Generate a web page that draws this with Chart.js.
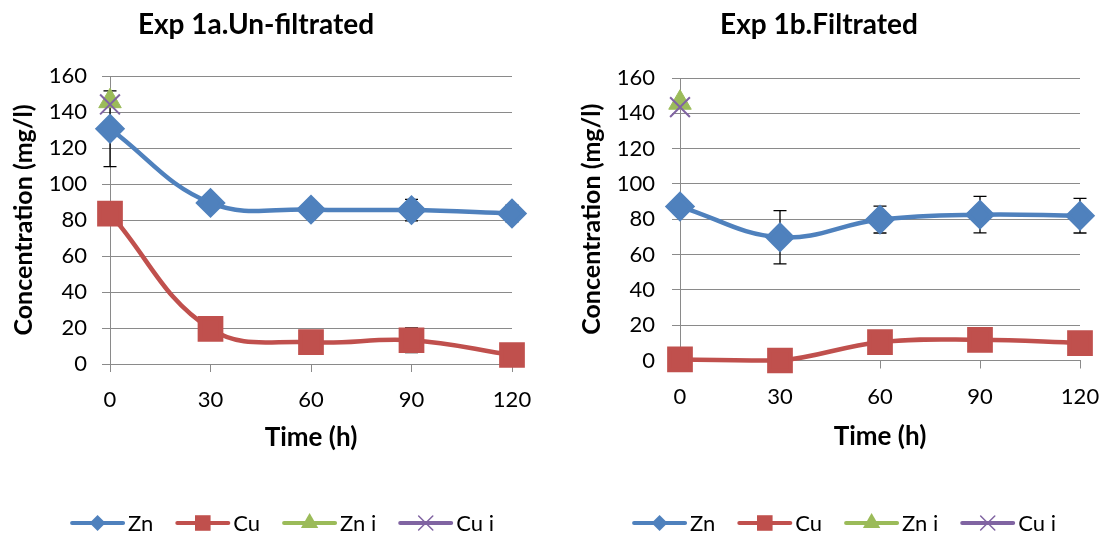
<!DOCTYPE html>
<html>
<head>
<meta charset="utf-8">
<script src="https://cdn.jsdelivr.net/npm/chart.js@4/dist/chart.umd.min.js"></script>
<style>
  html, body { margin: 0; padding: 0; background: #fff; }
  #wrap { position: relative; width: 1117px; height: 534px; overflow: hidden; }
  canvas { position: absolute; top: 0; }
</style>
</head>
<body>
<div id="wrap">
  <canvas id="chartA" width="558" height="534" style="left:0"></canvas>
  <canvas id="chartB" width="559" height="534" style="left:558px"></canvas>
</div>
<script>
const tiempos = [0, 30, 60, 90, 120];
const yTicks = [0, 20, 40, 60, 80, 100, 120, 140, 160];
const series = ["Zn", "Cu", "Zn i", "Cu i"];

// Exp 1a. Un-filtrated
const znA = [130.7, 89.5, 85.8, 85.5, 83.6];
const znErrA = [21, 4.2, 3.7, 6, 4.6];
const cuA = [83.6, 19.5, 12.1, 13.2, 5.0];
const cuErrA = [2, 2, 1.5, 6.9, 1.5];
const znIA = [146];
const cuIA = [144.2];

// Exp 1b. Filtrated
const znB = [87.2, 69.8, 79.8, 82.6, 82.0];
const znErrB = [2, 15.1, 7.6, 10.3, 9.8];
const cuB = [0.6, 0, 10.4, 11.7, 9.9];
const cuErrB = [1, 1, 1.5, 1.5, 1.5];
const znIB = [146];
const cuIB = [143.5];

const colores = ["#4F81BD", "#C0504D", "#9BBB59", "#8064A2"];
const fuente = "Lato";

function puntos(vals) {
  return vals.map((v, i) => ({ x: tiempos[i], y: v }));
}

// barras de error
const errorBars = {
  id: "errorBars",
  beforeDatasetsDraw(chart) {
    const ctx = chart.ctx;
    const xs = chart.scales.x, ys = chart.scales.y;
    ctx.save();
    ctx.strokeStyle = "#000";
    ctx.lineWidth = 1.3;
    chart.data.datasets.forEach(ds => {
      if (!ds.errores) return;
      ds.data.forEach((p, i) => {
        const e = ds.errores[i];
        if (!e) return;
        const x = xs.getPixelForValue(p.x);
        const y1 = ys.getPixelForValue(p.y + e);
        const y2 = ys.getPixelForValue(p.y - e);
        ctx.beginPath();
        ctx.moveTo(x, y1); ctx.lineTo(x, y2);
        ctx.moveTo(x - 6.5, y1); ctx.lineTo(x + 6.5, y1);
        ctx.moveTo(x - 6.5, y2); ctx.lineTo(x + 6.5, y2);
        ctx.stroke();
      });
    });
    ctx.restore();
  }
};

function marcador(ctx, tipo, x, y, r, color) {
  ctx.save();
  ctx.fillStyle = color;
  ctx.strokeStyle = color;
  ctx.beginPath();
  if (tipo === "rectRot") {
    ctx.moveTo(x, y - r); ctx.lineTo(x + r, y); ctx.lineTo(x, y + r); ctx.lineTo(x - r, y);
    ctx.closePath(); ctx.fill();
  } else if (tipo === "rect") {
    const s = r * Math.SQRT1_2;
    ctx.rect(x - s, y - s, 2 * s, 2 * s); ctx.fill();
  } else if (tipo === "triangle") {
    ctx.moveTo(x, y - r); ctx.lineTo(x + r * 0.866, y + r * 0.5); ctx.lineTo(x - r * 0.866, y + r * 0.5);
    ctx.closePath(); ctx.fill();
  } else {
    const s = r * Math.SQRT1_2;
    ctx.lineWidth = 1.5;
    ctx.moveTo(x - s, y - s); ctx.lineTo(x + s, y + s);
    ctx.moveTo(x + s, y - s); ctx.lineTo(x - s, y + s);
    ctx.stroke();
  }
  ctx.restore();
}

// leyenda al pie (línea + marcador como en Excel)
const leyenda = {
  id: "leyenda",
  afterDraw(chart, args, opts) {
    const ctx = chart.ctx;
    ctx.save();
    ctx.font = "22px " + fuente;
    ctx.textBaseline = "middle";
    const largo = 55, hueco = 3, sep = 22;
    const items = chart.data.datasets.map(ds => ({
      label: ds.label, color: ds.borderColor, tipo: ds.pointStyle,
      w: largo + hueco + ctx.measureText(ds.label).width
    }));
    const total = items.reduce((s, it) => s + it.w, 0) + sep * (items.length - 1);
    let x = opts.centro - total / 2;
    const y = opts.y;
    const radios = { rectRot: 8, rect: 11, triangle: 10, crossRot: 10 };
    items.forEach(it => {
      ctx.strokeStyle = it.color;
      ctx.lineWidth = 4;
      ctx.lineCap = "round";
      ctx.beginPath();
      ctx.moveTo(x + 2, y); ctx.lineTo(x + largo - 2, y);
      ctx.stroke();
      marcador(ctx, it.tipo, x + largo / 2, y, radios[it.tipo], it.color);
      ctx.fillStyle = "#000";
      ctx.fillText(it.label, x + largo + hueco, y + 1);
      x += it.w + sep;
    });
    ctx.restore();
  }
};

function crearGrafico(id, titulo, zn, znErr, cu, cuErr, znI, cuI, lay) {
  const grid = "#8a8a8a";
  return new Chart(document.getElementById(id), {
    type: "line",
    data: {
      datasets: [
        { label: series[0], data: puntos(zn), errores: znErr, borderColor: colores[0], backgroundColor: colores[0],
          pointStyle: "rectRot", pointRadius: 12, borderWidth: 4.5, tension: 0.4, clip: false, order: 3 },
        { label: series[1], data: puntos(cu), errores: cuErr, borderColor: colores[1], backgroundColor: colores[1],
          pointStyle: "rect", pointRadius: 15, borderWidth: 4.5, tension: 0.4, clip: false, order: 2 },
        { label: series[2], data: puntos(znI), borderColor: colores[2], backgroundColor: colores[2],
          pointStyle: "triangle", pointRadius: 13, showLine: false, clip: false, order: 1 },
        { label: series[3], data: puntos(cuI), borderColor: colores[3], backgroundColor: colores[3],
          pointStyle: "crossRot", pointRadius: 14, pointBorderWidth: 2, showLine: false, clip: false, order: 0 }
      ]
    },
    options: {
      responsive: false,
      animation: false,
      layout: { padding: { left: 0, right: lay.der, top: 0, bottom: lay.abajo } },
      plugins: {
        legend: { display: false },
        tooltip: { enabled: false },
        title: {
          display: true, text: titulo, color: "#000",
          font: { family: fuente, size: 28, weight: "bold", lineHeight: 1.2 },
          padding: { top: 8, bottom: lay.top - 8 - 33.6 }
        },
        leyenda: { centro: lay.leyX, y: 523 }
      },
      scales: {
        x: {
          type: "linear", min: 0, max: 120,
          afterBuildTicks: s => { s.ticks = tiempos.map(v => ({ value: v })); },
          afterFit: s => { s.height = 100; },
          grid: { drawOnChartArea: false, drawTicks: true, tickLength: 8, color: grid },
          border: { color: grid, width: 1 },
          ticks: { color: "#000", padding: 15, font: { family: fuente, size: 22 } },
          title: { display: true, text: "Time (h)", color: "#000",
            font: { family: fuente, size: 26, weight: "bold", lineHeight: 1.2 },
            padding: { top: 0, bottom: lay.xTitulo } }
        },
        y: {
          min: 0, max: 160,
          afterBuildTicks: s => { s.ticks = yTicks.map(v => ({ value: v })); },
          afterFit: s => { s.width = lay.ancho; },
          grid: { color: grid, lineWidth: 1, tickLength: 8 },
          border: { color: grid, width: 1 },
          ticks: { color: "#000", padding: lay.yPad, font: { family: fuente, size: 22 } },
          title: { display: true, text: "Concentration (mg/l)", color: "#000",
            font: { family: fuente, size: 25, weight: "bold", lineHeight: 1.2 },
            padding: { top: lay.yTitulo, bottom: 0 } }
        }
      }
    },
    plugins: [errorBars, leyenda]
  });
}

crearGrafico("chartA", "Exp 1a.Un-filtrated", znA, znErrA, cuA, cuErrA, znIA, cuIA,
  { ancho: 110, der: 46, top: 76, abajo: 70, xTitulo: 11, yTitulo: 9, yPad: 15, leyX: 282 });
crearGrafico("chartB", "Exp 1b.Filtrated", znB, znErrB, cuB, cuErrB, znIB, cuIB,
  { ancho: 122, der: 37, top: 78, abajo: 73.5, xTitulo: 8, yTitulo: 19, yPad: 17, leyX: 286 });
</script>
</body>
</html>
